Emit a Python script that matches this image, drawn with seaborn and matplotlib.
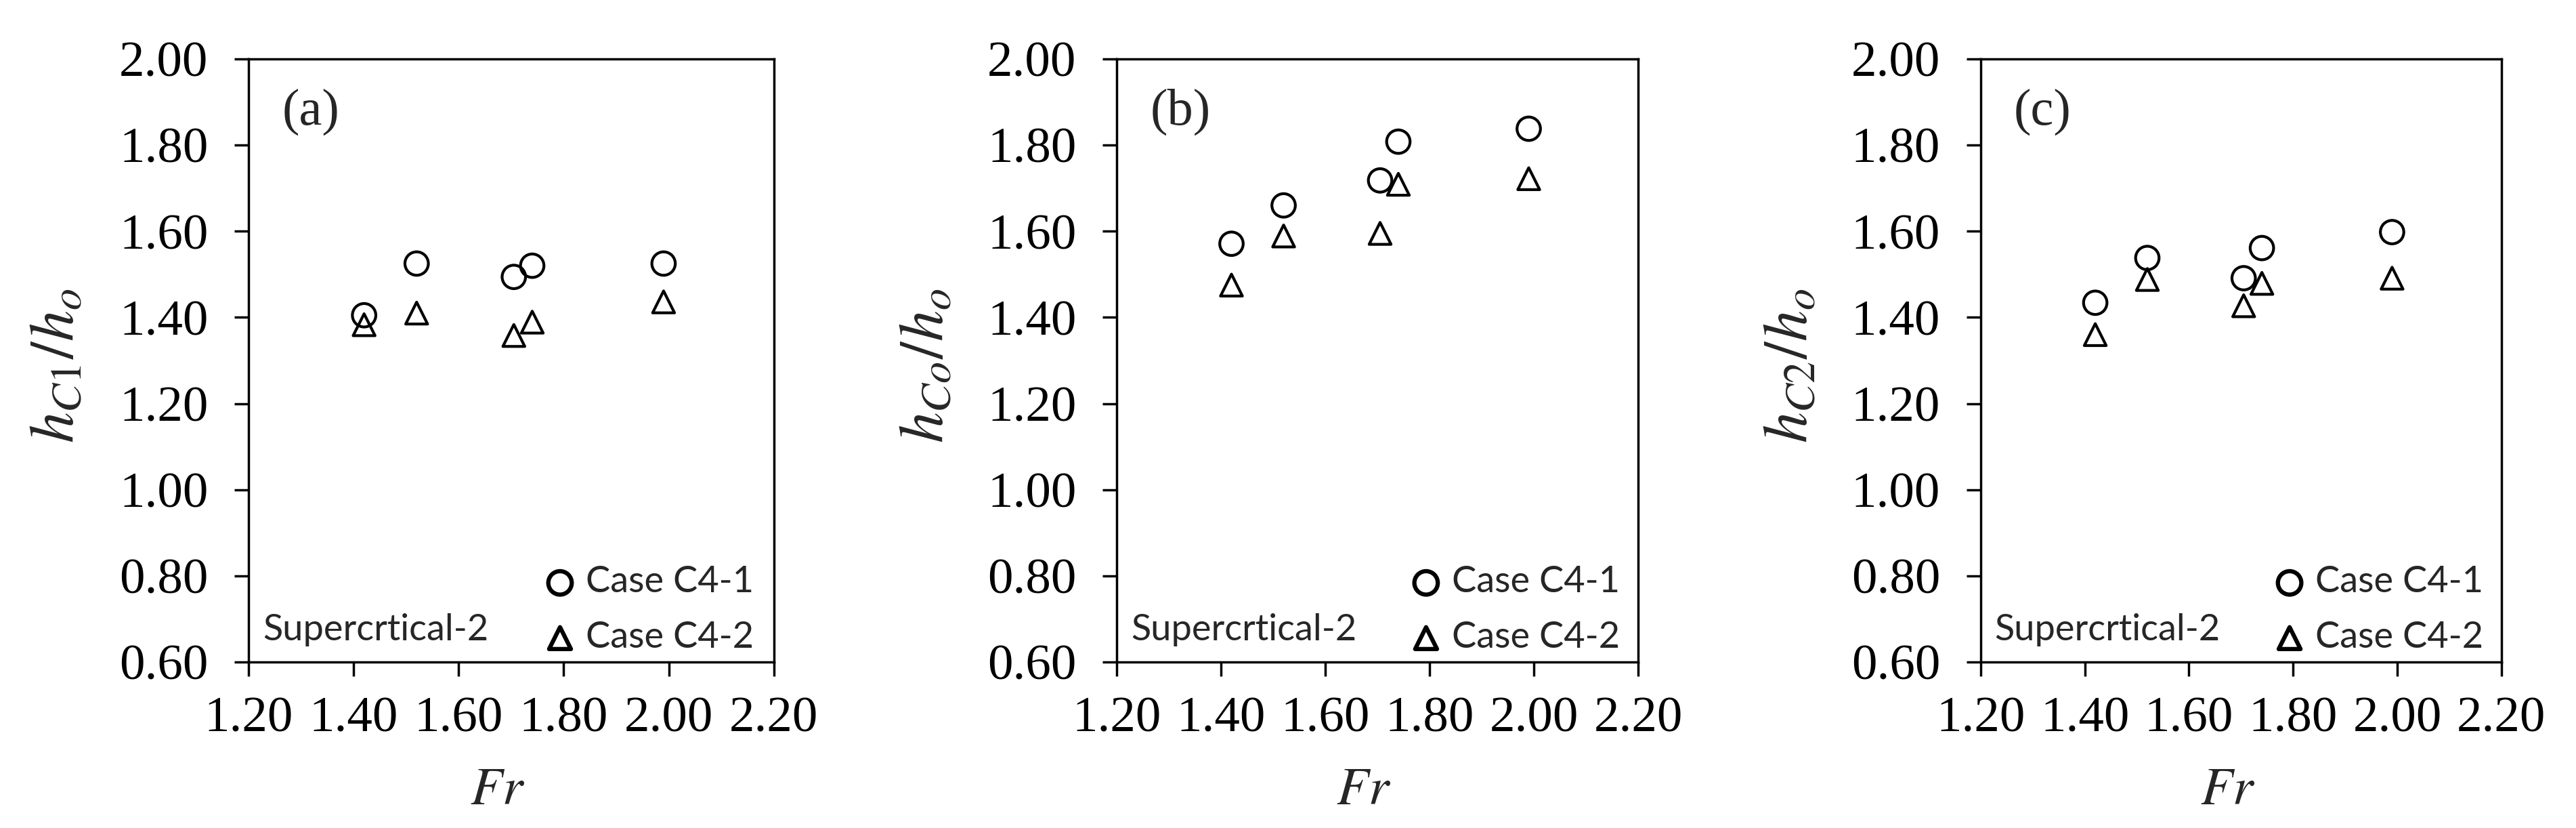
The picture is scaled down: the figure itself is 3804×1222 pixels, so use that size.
import matplotlib
matplotlib.use("Agg")
import matplotlib.pyplot as plt
import numpy as np
import pandas as pd
import seaborn as sns
from matplotlib.ticker import FormatStrFormatter

# ---------------- data ----------------
fr = [1.42, 1.52, 1.705, 1.74, 1.99]

a_case1 = [1.405, 1.525, 1.494, 1.520, 1.525]
a_case2 = [1.383, 1.410, 1.358, 1.389, 1.436]

b_case1 = [1.571, 1.660, 1.718, 1.808, 1.838]
b_case2 = [1.475, 1.589, 1.595, 1.709, 1.722]

c_case1 = [1.434, 1.538, 1.491, 1.561, 1.598]
c_case2 = [1.360, 1.488, 1.427, 1.479, 1.491]

series_names = ["Case C4-1", "Case C4-2"]
panel_letters = ["(a)", "(b)", "(c)"]
ylabels = [r"$h_{C1}/h_o$", r"$h_{Co}/h_o$", r"$h_{C2}/h_o$"]
xlabel = r"$Fr$"
note = "Supercrtical-2"
xticks = [1.20, 1.40, 1.60, 1.80, 2.00, 2.20]
yticks = [0.60, 0.80, 1.00, 1.20, 1.40, 1.60, 1.80, 2.00]

panels = [(a_case1, a_case2), (b_case1, b_case2), (c_case1, c_case2)]

# ---------------- style ----------------
sns.set_theme(style="white")
plt.rcParams["font.family"] = ["Liberation Serif", "DejaVu Serif"]
plt.rcParams["mathtext.fontset"] = "stix"

fig = plt.figure(figsize=(38.05, 12.22), dpi=100)
lefts = [0.09645, 0.4334, 0.7687]
widths = [0.2039, 0.2024, 0.2021]
bottom, height = 0.2005, 0.7283

for i, (s1, s2) in enumerate(panels):
    ax = fig.add_axes([lefts[i], bottom, widths[i], height])
    df = pd.DataFrame({
        "Fr": fr + fr,
        "h": list(s1) + list(s2),
        "Case": [series_names[0]] * len(fr) + [series_names[1]] * len(fr),
    })
    d1 = df[df["Case"] == series_names[0]]
    d2 = df[df["Case"] == series_names[1]]
    sns.scatterplot(data=d1, x="Fr", y="h", marker="o", s=620, color="black",
                    facecolors="none", edgecolor="black", linewidth=3.0,
                    ax=ax, label=series_names[0], legend=False, zorder=3)
    sns.scatterplot(data=d2, x="Fr", y="h", marker="^", s=540, color="black",
                    facecolors="none", edgecolor="black", linewidth=3.0,
                    ax=ax, label=series_names[1], legend=False, zorder=3)

    ax.set_xlim(1.2, 2.2)
    ax.set_ylim(0.6, 2.0)
    ax.set_xticks(xticks)
    ax.set_yticks(yticks)
    ax.xaxis.set_major_formatter(FormatStrFormatter("%.2f"))
    ax.yaxis.set_major_formatter(FormatStrFormatter("%.2f"))
    ax.tick_params(axis="both", direction="out", length=15, width=2.5,
                   labelsize=54, colors="black", bottom=True, left=True,
                   top=False, right=False)
    ax.tick_params(axis="x", pad=22)
    ax.tick_params(axis="y", pad=28)
    for sp in ax.spines.values():
        sp.set_linewidth(2.5)
        sp.set_color("black")
        sp.set_visible(True)

    ax.set_ylabel(ylabels[i], fontsize=66)
    ax.yaxis.set_label_coords(-0.309, 0.491)
    ax.set_xlabel(xlabel, fontsize=56)
    ax.xaxis.set_label_coords(0.474, -0.175)

    ax.text(0.064, 0.912, panel_letters[i], transform=ax.transAxes,
            fontsize=55, va="center", ha="left")
    ax.text(0.027, 0.036, note, transform=ax.transAxes,
            fontfamily=["Lato", "DejaVu Sans"], fontsize=39,
            va="baseline", ha="left")

    leg = ax.legend(loc="lower left", bbox_to_anchor=(0.558, 0.0135),
                    frameon=False, prop={"family": "Lato", "size": 39},
                    handlelength=1.0, handletextpad=0.2, borderpad=0,
                    borderaxespad=0, labelspacing=0.6, scatterpoints=1)
    for h in leg.legend_handles:
        h.set_linewidth(4.5)

fig.savefig("out.png", dpi=100)
